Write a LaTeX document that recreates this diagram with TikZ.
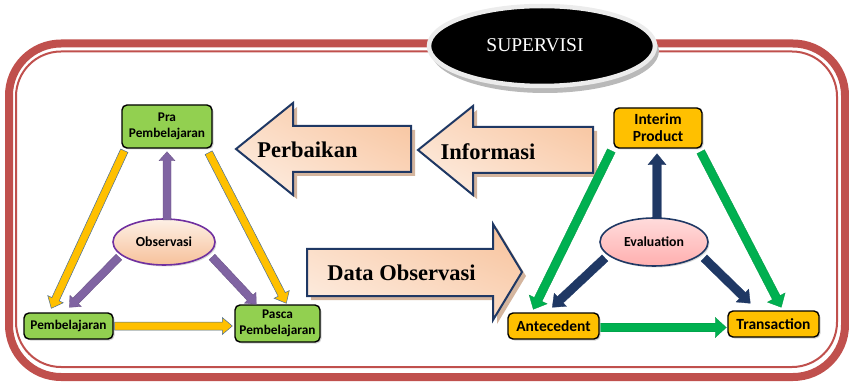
\documentclass[tikz,border=0pt]{standalone}
\usepackage{fontspec}
\setmainfont{Liberation Serif}
\newfontfamily\carlito{Carlito}
\usetikzlibrary{calc,shadows,shadings,shapes.geometric}

\definecolor{framered}{HTML}{C0504D}
\definecolor{boxgreen}{HTML}{92D050}
\definecolor{boxorange}{HTML}{FFC000}
\definecolor{arryellow}{HTML}{FFC000}
\definecolor{arroutline}{HTML}{4A6E96}
\definecolor{arrpurple}{HTML}{8064A2}
\definecolor{arrgreen}{HTML}{00B050}
\definecolor{arrnavy}{HTML}{1F3864}
\definecolor{ellpurple}{HTML}{7030A0}
\definecolor{peachdark}{HTML}{F7C19A}
\definecolor{peachmid}{HTML}{FBD9C0}
\definecolor{peachlight}{HTML}{FDF0E6}
\definecolor{bigshadow}{HTML}{C9A286}
\definecolor{pinkdark}{HTML}{FFAFAF}
\definecolor{pinklight}{HTML}{FFDCDC}

% thick block arrow from #2 to #3: style, from, to, half shaft, half head, head length
\newcommand{\fatarrow}[6]{%
  \coordinate (fabase) at ($(#3)!#6!(#2)$);
  \filldraw[#1] ($(#2)!#4!90:(#3)$) -- ($(fabase)!#4!90:(#3)$)
    -- ($(fabase)!#5!90:(#3)$) -- (#3) -- ($(fabase)!#5!-90:(#3)$)
    -- ($(fabase)!#4!-90:(#3)$) -- ($(#2)!#4!-90:(#3)$) -- cycle;
}

\tikzset{
  stagebox/.style={draw=black, line width=1.4pt, rounded corners=5pt, inner sep=0pt,
    align=center, font=\carlito\bfseries\fontsize{13.3}{15.5}\selectfont,
    drop shadow={shadow xshift=1.5pt, shadow yshift=-1.5pt, opacity=0.35}},
  greenbox/.style={stagebox, fill=boxgreen},
  orangebox/.style={stagebox, fill=boxorange, font=\carlito\bfseries\fontsize{15.5}{17}\selectfont},
  centreell/.style={ellipse, line width=1.6pt, inner sep=0pt,
    font=\carlito\bfseries\fontsize{13.8}{15}\selectfont,
    drop shadow={shadow xshift=1.5pt, shadow yshift=-1.5pt, opacity=0.3}},
  yellowarr/.style={fill=arryellow, draw=arroutline, line width=0.5pt, line join=miter},
  purplearr/.style={fill=arrpurple, draw=arrpurple!80!black, line width=0.3pt},
  greenarr/.style={fill=arrgreen, draw=arrgreen!85!black, line width=0.3pt},
  navyarr/.style={fill=arrnavy, draw=arrnavy, line width=0.3pt},
  bigarrow/.style={upper right=peachdark, upper left=peachmid, lower left=peachlight, lower right=peachmid},
  bigoutline/.style={draw=arrnavy, line width=2pt, line join=miter},
  bigshade/.style={fill=bigshadow, opacity=0.8},
  bigtext/.style={font=\bfseries\fontsize{22.5}{26}\selectfont, inner sep=0pt}
}

\begin{document}
\begin{tikzpicture}[x=1pt, y=-1pt]
\useasboundingbox (0,0) rectangle (849,382);

% double red frame
\draw[framered, line width=8pt, rounded corners=52pt] (9,43.5) rectangle (845,377);
\draw[framered, line width=2pt, rounded corners=45pt] (16,51.5) rectangle (837,367);

% title ellipse
\fill[gray!55] (545,51) ellipse [x radius=114, y radius=42];
\filldraw[fill=black, draw=gray!15, line width=4.5pt] (542,46) ellipse [x radius=113, y radius=40];
\node[text=white, font=\fontsize{19.5}{22}\selectfont, inner sep=0pt] (title) at (535,45) {SUPERVISI};

% big block arrows
\fill[bigshade, shift={(4,4)}] (236,149) -- (293,103) -- (293,126) -- (411,126) -- (411,172) -- (293,172) -- (293,195) -- cycle;
\shade[bigarrow] (236,149) -- (293,103) -- (293,126) -- (411,126) -- (411,172) -- (293,172) -- (293,195) -- cycle;
\draw[bigoutline] (236,149) -- (293,103) -- (293,126) -- (411,126) -- (411,172) -- (293,172) -- (293,195) -- cycle;
\node[bigtext] (perbaikan) at (307.5,150) {Perbaikan};

\fill[bigshade, shift={(4,4)}] (418,150) -- (473,106) -- (473,127) -- (593,127) -- (593,173) -- (473,173) -- (473,195) -- cycle;
\shade[bigarrow] (418,150) -- (473,106) -- (473,127) -- (593,127) -- (593,173) -- (473,173) -- (473,195) -- cycle;
\draw[bigoutline] (418,150) -- (473,106) -- (473,127) -- (593,127) -- (593,173) -- (473,173) -- (473,195) -- cycle;
\node[bigtext] (informasi) at (488,152) {Informasi};

\fill[bigshade, shift={(4,4)}] (307,249) -- (493,249) -- (493,224) -- (522,272) -- (493,320) -- (493,296) -- (307,296) -- cycle;
\shade[bigarrow] (307,249) -- (493,249) -- (493,224) -- (522,272) -- (493,320) -- (493,296) -- (307,296) -- cycle;
\draw[bigoutline] (307,249) -- (493,249) -- (493,224) -- (522,272) -- (493,320) -- (493,296) -- (307,296) -- cycle;
\node[bigtext] (dataobs) at (401.5,273) {Data Observasi};

% learning stages
\node[greenbox, minimum width=90pt, minimum height=43pt] (pra) at (167,126.5) {Pra\\Pembelajaran};
\node[greenbox, minimum width=89pt, minimum height=26pt] (pemb) at (68.5,326) {Pembelajaran};
\node[greenbox, minimum width=85pt, minimum height=37pt] (pasca) at (277.5,323.5) {Pasca\\Pembelajaran};
\node[centreell, draw=ellpurple, top color=peachlight, bottom color=peachdark,
  minimum width=102pt, minimum height=46pt] (obs) at (164,242) {Observasi};

% evaluation model
\node[orangebox, minimum width=88pt, minimum height=40pt] (interim) at (658,128) {Interim\\Product};
\node[orangebox, minimum width=91pt, minimum height=26pt] (ante) at (553.5,326) {Antecedent};
\node[orangebox, minimum width=91pt, minimum height=26pt] (trans) at (773.5,324) {Transaction};
\node[centreell, draw=arrnavy, top color=pinklight, bottom color=pinkdark,
  minimum width=108pt, minimum height=48pt] (eval) at (654,242) {Evaluation};

% connector ends
\coordinate (y1a) at ([shift={(3,2)}]pra.south west);
\coordinate (y1b) at ([shift={(28,-4)}]pemb.north west);
\coordinate (y2a) at ([shift={(-4,4)}]pra.south east);
\coordinate (y2b) at ([shift={(52,-1)}]pasca.north west);
\coordinate (y3a) at ([shift={(1,0)}]pemb.east);
\coordinate (y3b) at ([shift={(-2,2.5)}]pasca.west);
\coordinate (p1a) at ([shift={(3,-22)}]obs.center);
\coordinate (p1b) at ([shift={(0,3)}]pra.south);
\coordinate (p2a) at ([shift={(-45,15)}]obs.center);
\coordinate (p2b) at ([shift={(46,-5)}]pemb.north west);
\coordinate (p3a) at ([shift={(48,15)}]obs.center);
\coordinate (p3b) at ([shift={(22,0)}]pasca.north west);
\coordinate (g1a) at ([shift={(-2,2)}]interim.south west);
\coordinate (g1b) at ([shift={(26,-3)}]ante.north west);
\coordinate (g2a) at ([shift={(-2,3)}]interim.south east);
\coordinate (g2b) at ([shift={(54,-3)}]trans.north west);
\coordinate (g3a) at ([shift={(1,1.5)}]ante.east);
\coordinate (g3b) at ([shift={(-1,3.5)}]trans.west);
\coordinate (n1a) at ([shift={(3,-23)}]eval.center);
\coordinate (n1b) at ([shift={(-1,5)}]interim.south);
\coordinate (n2a) at ([shift={(-49,16)}]eval.center);
\coordinate (n2b) at ([shift={(45,-5)}]ante.north west);
\coordinate (n3a) at ([shift={(50,16)}]eval.center);
\coordinate (n3b) at ([shift={(23,-7)}]trans.north west);

% connectors of the learning cycle
\fatarrow{yellowarr}{y1a}{y1b}{4pt}{8.5pt}{10pt}
\fatarrow{yellowarr}{y2a}{y2b}{4pt}{8.5pt}{10pt}
\fatarrow{yellowarr}{y3a}{y3b}{4pt}{8.5pt}{10pt}
\fatarrow{purplearr}{p1a}{p1b}{4pt}{8pt}{9pt}
\fatarrow{purplearr}{p2a}{p2b}{4pt}{8pt}{9pt}
\fatarrow{purplearr}{p3a}{p3b}{4pt}{8pt}{9pt}

% connectors of the evaluation model
\fatarrow{greenarr}{g1a}{g1b}{4.3pt}{10pt}{11pt}
\fatarrow{greenarr}{g2a}{g2b}{4.3pt}{10pt}{11pt}
\fatarrow{greenarr}{g3a}{g3b}{4.3pt}{10pt}{11pt}
\fatarrow{navyarr}{n1a}{n1b}{4.3pt}{9pt}{11pt}
\fatarrow{navyarr}{n2a}{n2b}{4.3pt}{9pt}{11pt}
\fatarrow{navyarr}{n3a}{n3b}{4.3pt}{9pt}{11pt}
\end{tikzpicture}
\end{document}
